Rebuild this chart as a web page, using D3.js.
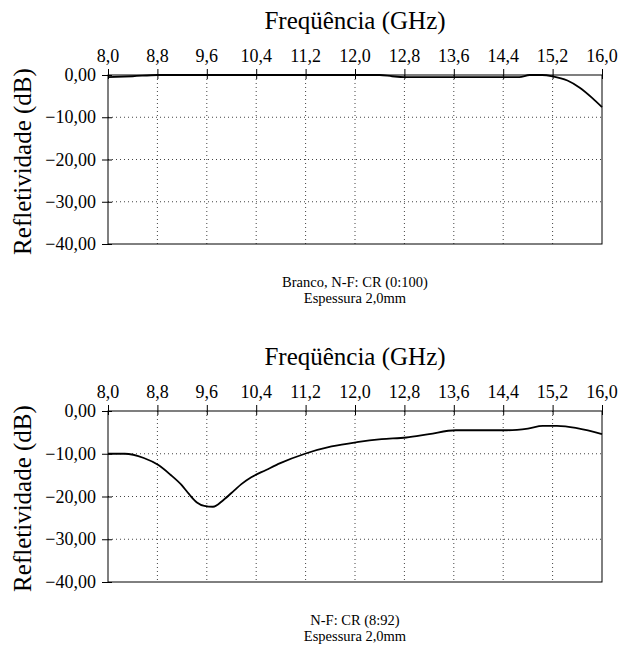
<!DOCTYPE html>
<html>
<head>
<meta charset="utf-8">
<script src="https://cdn.jsdelivr.net/npm/d3@7"></script>
</head>
<body style="margin:0">
<script>
var WD = 621, HT = 649
var SERIF = "'Liberation Serif', 'Times New Roman', serif"

// tick labels
var xTicks = [8.0, 8.8, 9.6, 10.4, 11.2, 12.0, 12.8, 13.6, 14.4, 15.2, 16.0]
var yTicks = [0, -10, -20, -30, -40]

// Branco, N-F: CR (0:100)
var freqA = [8.0, 8.4, 8.8, 9.6, 10.4, 11.2, 12.0, 12.4, 12.6, 12.8, 13.6, 14.4, 14.66, 14.83, 15.03, 15.2, 15.44, 15.64, 15.84, 16.0]
var reflA = [-0.5, -0.3, 0.0, 0.0, 0.0, 0.0, 0.0, 0.0, -0.3, -0.5, -0.5, -0.5, -0.5, 0.0, 0.0, -0.3, -1.3, -3.0, -5.4, -7.6]

// N-F: CR (8:92)
var freqB = [8.0, 8.27, 8.58, 8.81, 9.01, 9.19, 9.31, 9.44, 9.56, 9.70, 9.87, 10.05, 10.16, 10.32, 10.56, 10.79, 11.19, 11.62, 12.03, 12.43, 12.83, 13.2, 13.63, 14.46, 14.8, 15.04, 15.27, 16.0]
var reflB = [-10.0, -10.0, -11.0, -12.6, -14.9, -17.3, -19.4, -21.4, -22.2, -22.4, -20.8, -18.5, -17.1, -15.5, -13.8, -12.2, -10.0, -8.3, -7.3, -6.6, -6.2, -5.4, -4.5, -4.5, -4.1, -3.5, -3.5, -5.4]

var panels = [
  { top: 75, bottom: 244, freq: freqA, refl: reflA, caption: ["Branco, N-F: CR (0:100)", "Espessura 2,0mm"] },
  { top: 411, bottom: 582, freq: freqB, refl: reflB, caption: ["N-F: CR (8:92)", "Espessura 2,0mm"] }
]

var margin = { left: 108, right: 19 }

var svg = d3.select("body")
            .append("svg")
              .attr("width", WD)
              .attr("height", HT)

var x = d3.scaleLinear().domain([8, 16]).range([margin.left, WD - margin.right])
var fmtX = function(d) { return d3.format(".1f")(d).replace(".", ",") }
var fmtY = function(d) { return d3.format(".2f")(d).replace(".", ",") }

panels.forEach(function(p) {
  var y = d3.scaleLinear().domain([-40, 0]).range([p.bottom, p.top])

  // dotted grid
  svg.append("g").selectAll("line")
      .data(xTicks.slice(1, -1))
      .enter().append("line")
        .attr("x1", function(d) { return x(d) }).attr("x2", function(d) { return x(d) })
        .attr("y1", p.top).attr("y2", p.bottom)
        .attr("stroke", "#444").attr("stroke-dasharray", "1,3")
  svg.append("g").selectAll("line")
      .data(yTicks.slice(1, -1))
      .enter().append("line")
        .attr("x1", x(8)).attr("x2", x(16))
        .attr("y1", function(d) { return y(d) }).attr("y2", function(d) { return y(d) })
        .attr("stroke", "#444").attr("stroke-dasharray", "1,3")

  // frame
  svg.append("rect")
    .attr("x", x(8)).attr("y", p.top)
    .attr("width", x(16) - x(8)).attr("height", p.bottom - p.top)
    .attr("fill", "none").attr("stroke", "#000").attr("stroke-width", 1)

  // tick marks
  var gx = svg.append("g").attr("transform", "translate(0," + p.top + ")")
    .call(d3.axisTop(x).tickValues(xTicks).tickFormat("").tickSizeOuter(0))
  gx.select(".domain").remove()
  gx.selectAll(".tick line").attr("y2", -6).attr("y1", 4)

  var gy = svg.append("g").attr("transform", "translate(" + x(8) + ",0)")
    .call(d3.axisLeft(y).tickValues(yTicks).tickFormat("").tickSizeOuter(0))
  gy.select(".domain").remove()
  gy.selectAll(".tick line").attr("x2", -6).attr("x1", 4)

  // tick labels
  svg.append("g").selectAll("text")
    .data(xTicks)
    .enter().append("text")
      .attr("x", function(d) { return x(d) })
      .attr("y", p.top - 13)
      .attr("text-anchor", "middle")
      .style("font-family", SERIF)
      .style("font-size", "18px")
      .text(fmtX)

  svg.append("g").selectAll("text")
    .data(yTicks)
    .enter().append("text")
      .attr("x", x(8) - 12)
      .attr("y", function(d) { return y(d) + 6 })
      .attr("text-anchor", "end")
      .style("font-family", SERIF)
      .style("font-size", "18px")
      .text(fmtY)

  // axis titles
  svg.append("text")
    .attr("x", 355).attr("y", p.top - 46)
    .attr("text-anchor", "middle")
    .style("font-family", SERIF).style("font-size", "25px")
    .text("Freqüência (GHz)")
  svg.append("text")
    .attr("transform", "translate(31," + ((p.top + p.bottom) / 2 + 2) + ") rotate(-90)")
    .attr("text-anchor", "middle")
    .style("font-family", SERIF).style("font-size", "25px")
    .text("Refletividade (dB)")

  // curve
  var line = d3.line()
    .x(function(d, i) { return x(p.freq[i]) })
    .y(function(d) { return y(d) })
    .curve(d3.curveMonotoneX)
  svg.append("path")
    .datum(p.refl)
    .attr("d", line)
    .attr("fill", "none")
    .attr("stroke", "#000")
    .attr("stroke-width", 1.8)

  // caption
  svg.append("g").selectAll("text")
    .data(p.caption)
    .enter().append("text")
      .attr("x", 355)
      .attr("y", function(d, i) { return p.bottom + 43 + i * 16 })
      .attr("text-anchor", "middle")
      .style("font-family", SERIF).style("font-size", "14.5px")
      .text(function(d) { return d })
})
</script>
</body>
</html>
